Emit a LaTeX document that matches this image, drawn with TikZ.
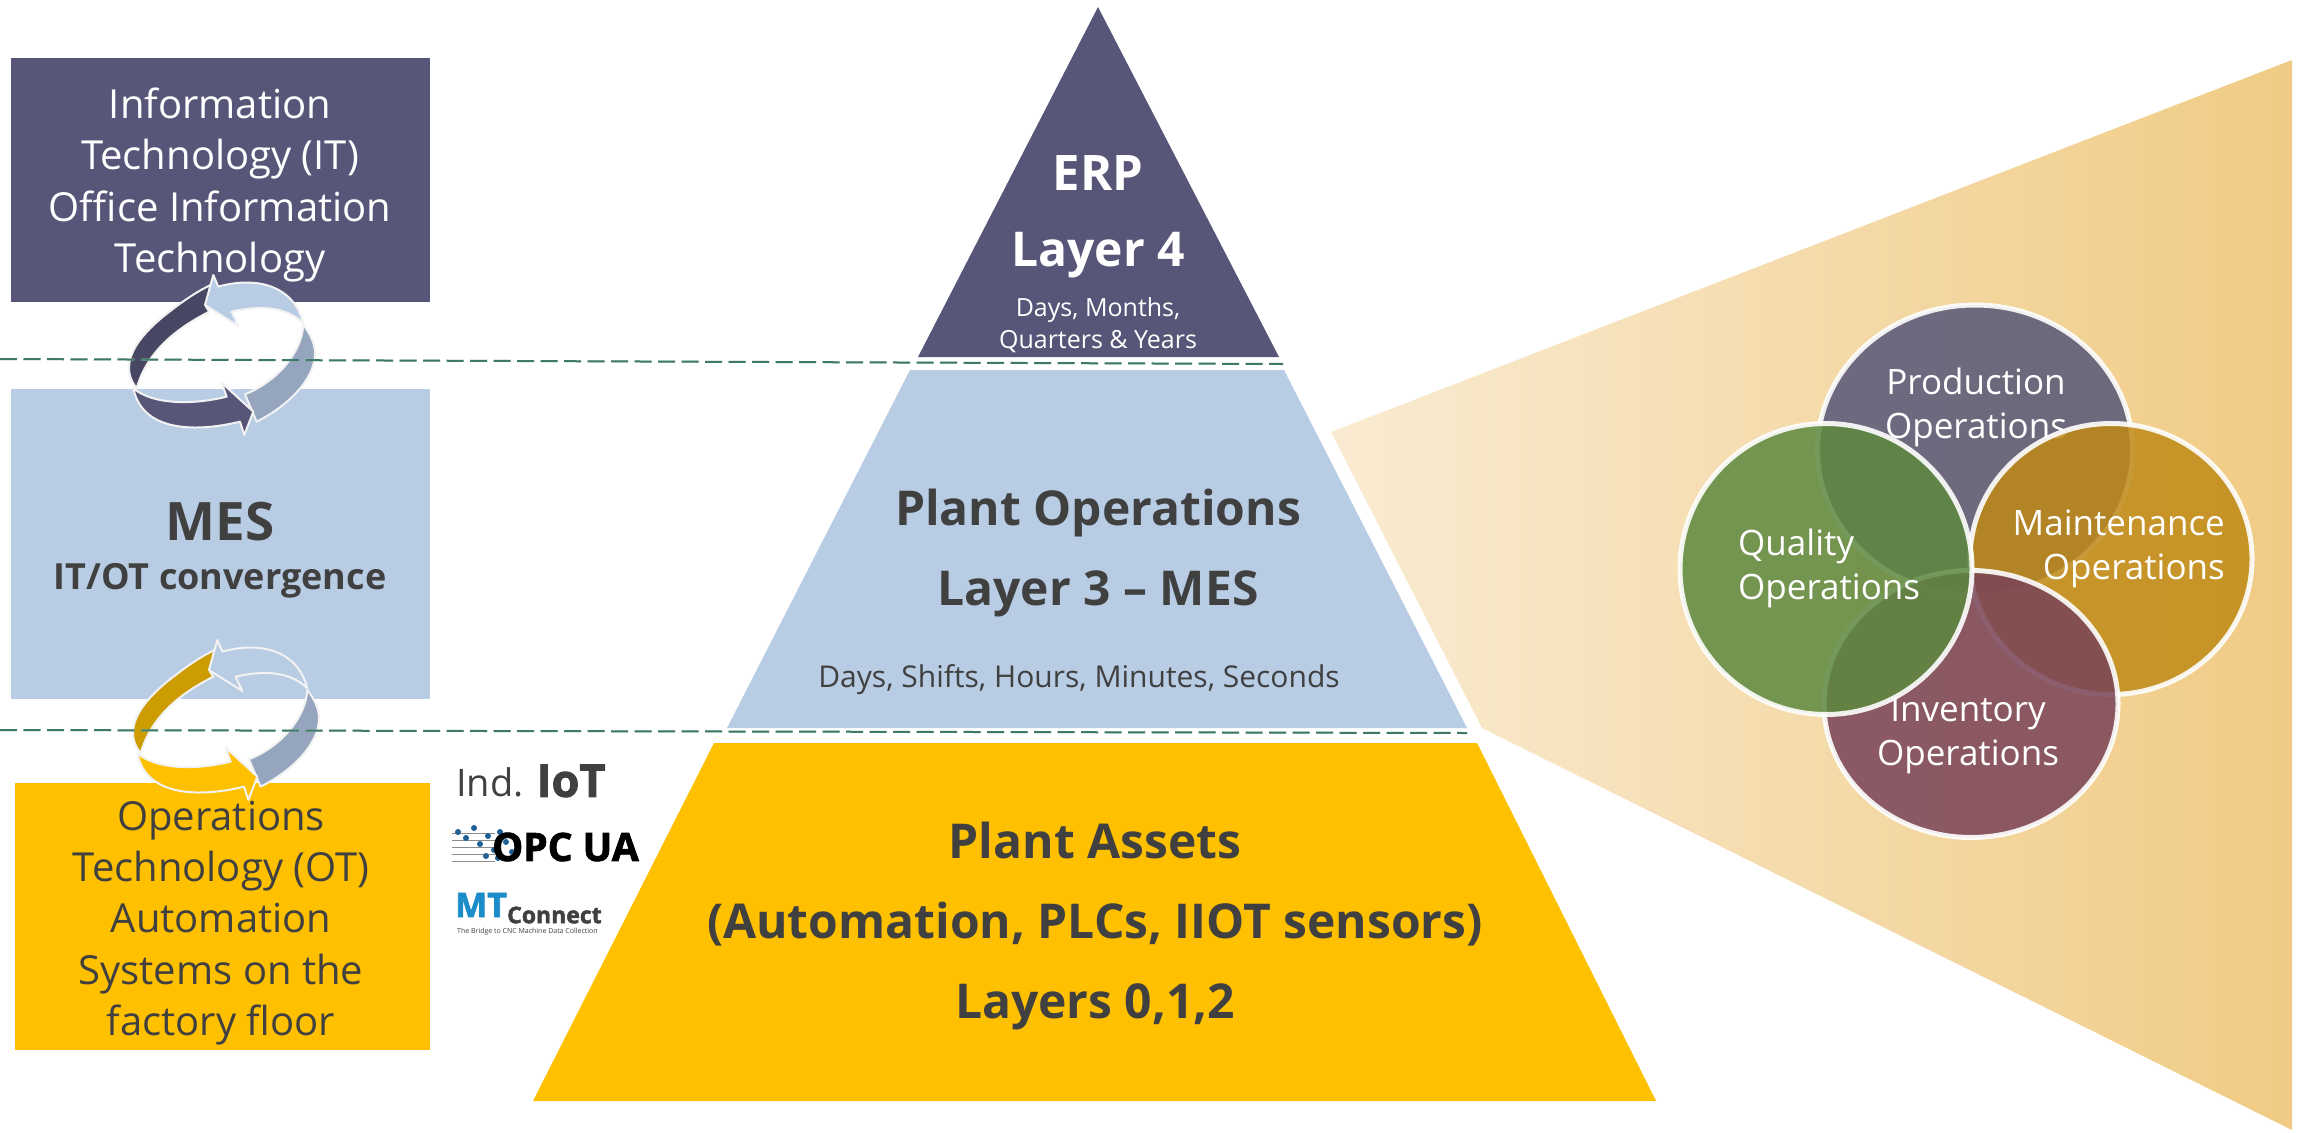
\documentclass[tikz,border=0pt]{standalone}
\usepackage{fontspec}
\setmainfont{Open Sans}
\usetikzlibrary{positioning,shapes.geometric}

\definecolor{itpurple}{HTML}{575678}
\definecolor{itdark}{HTML}{474663}
\definecolor{mesblue}{HTML}{B8CCE4}
\definecolor{greyblue}{HTML}{95A5BD}
\definecolor{otyellow}{HTML}{FFC000}
\definecolor{otdark}{HTML}{CC9C00}
\definecolor{txtdark}{HTML}{404040}
\definecolor{dashgreen}{HTML}{3E7A66}
\definecolor{fanleft}{HTML}{F9EBD2}
\definecolor{fanright}{HTML}{F0CB84}
\definecolor{prodcol}{HTML}{575678}
\definecolor{maintcol}{HTML}{BF8A16}
\definecolor{invcol}{HTML}{794358}
\definecolor{qualcol}{HTML}{5E893F}
\definecolor{opcblue}{HTML}{1F5F96}
\definecolor{mtblue}{HTML}{1C8CC8}

\newcommand{\fsz}[2]{\fontsize{#1}{#2}\selectfont}
\newcommand{\heavy}{\bfseries\addfontfeature{FakeBold=2}}

% one ring of four arrows, reads its corners in 3x pixels
\newcommand{\arrowring}[6]{
	\begin{scope}[shift={(#1,#2)},x=0.3333pt,y=-0.3333pt]
		\draw[ringline,fill=#5] (735,463) -- (770,545) .. controls (860,500) and (945,420) .. (945,340) .. controls (945,310) and (930,280) .. (910,255) .. controls (905,340) and (830,425) .. (735,463) -- cycle;
		\draw[ringline,fill=#3] (410,445) .. controls (358,380) and (395,300) .. (515,210) .. controls (560,175) and (600,150) .. (632,135) -- (618,200) -- (628,215) .. controls (520,270) and (440,340) .. (410,445) -- cycle;
		\draw[ringline,fill=#4] (615,195) -- (640,105) -- (655,140) .. controls (760,110) and (880,130) .. (910,250) .. controls (860,200) and (780,195) .. (695,215) -- (715,258) -- cycle;
		\draw[ringline,fill=#6] (400,445) .. controls (460,495) and (580,495) .. (680,470) -- (665,428) -- (760,515) -- (733,585) -- (720,545) .. controls (620,570) and (430,590) .. (400,445) -- cycle;
	\end{scope}
}

\tikzset{
	ringline/.style={draw=white!95!black,line width=2pt,line join=round},
	layerline/.style={dashgreen,line width=2pt,dash pattern=on 17pt off 6.5pt},
	layershade/.style={layerline,dashgreen!35,yshift=-1.5pt},
	sidetxt/.style={align=center,inner sep=0pt,font=\fsz{40}{51.3}},
	pyrtxt/.style={align=center,inner sep=0pt,text=txtdark,font=\bfseries\fsz{48}{80}},
	smalltxt/.style={align=center,inner sep=0pt,font=\fsz{25}{32}},
	venn/.style={ellipse,inner sep=0pt,draw=white,line width=5pt,fill opacity=0.85,draw opacity=0.9},
	venntxt/.style={inner sep=0pt,text=white,font=\fsz{35}{44}},
}

\begin{document}
\begin{tikzpicture}[x=1pt,y=-1pt]
	\useasboundingbox (0,0) rectangle (2298,1132);

	% fan behind the circles
	\shade[left color=fanleft,right color=fanright] (1331,432) -- (2292,60) -- (2292,1130) -- (1482,728) -- cycle;

	% left boxes
	\fill[itpurple] (11,58) rectangle (430,302);
	\fill[mesblue] (11,389) rectangle (430,699);
	\fill[otyellow] (15,783) rectangle (430,1050);

	\node[sidetxt,text=white] (ittxt) at (220,185) {Information\\Technology (IT)\\Office Information\\Technology};
	\node[inner sep=0pt,text=txtdark,font=\bfseries\fsz{53}{56}] (mestxt) at (220,522) {MES};
	\node[inner sep=0pt,text=txtdark,font=\bfseries\fsz{36}{40},below=22pt of mestxt] (convtxt) {IT/OT convergence};
	\node[sidetxt,text=txtdark] (ottxt) at (221,923) {Operations\\Technology (OT)\\Automation\\Systems on the\\factory floor};

	% pyramid
	\fill[itpurple] (1098,7) -- (1279,357) -- (918,357) -- cycle;
	\fill[mesblue] (910,370) -- (1284,370) -- (1467,728) -- (727,728) -- cycle;
	\fill[otyellow] (714,743) -- (1477,743) -- (1656,1101) -- (533,1101) -- cycle;

	\node[inner sep=0pt,text=white,font=\bfseries\fsz{49}{80}] (erptxt) at (1098,173) {ERP};
	\node[inner sep=0pt,text=white,font=\bfseries\fsz{48}{80}] (layerfour) at (1098,255) {Layer 4};
	\node[smalltxt,text=white] (erptime) at (1098,325) {Days, Months,\\Quarters \& Years};
	\node[pyrtxt] (planttxt) at (1098,553) {Plant Operations\\Layer 3 – MES};
	\node[smalltxt,text=txtdark,font=\fsz{30}{32}] (planttime) at (1079,680) {Days, Shifts, Hours, Minutes, Seconds};
	\node[pyrtxt] (assettxt) at (1095,926) {Plant Assets\\(Automation, PLCs, IIOT sensors)\\Layers 0,1,2};

	% arrow rings and layer lines
	\arrowring{0}{240}{itdark}{mesblue}{greyblue}{itpurple}
	\arrowring{4}{605}{otdark}{mesblue}{greyblue}{otyellow}

	\coordinate (lineoneL) at (0,359);
	\coordinate (lineoneR) at (1283,364);
	\coordinate (linetwoL) at (0,730);
	\coordinate (linetwoR) at (1467,733);
	\draw[layershade] (lineoneL) -- (lineoneR);
	\draw[layershade] (linetwoL) -- (linetwoR);
	\draw[layerline] (lineoneL) -- (lineoneR);
	\draw[layerline] (linetwoL) -- (linetwoR);

	% protocols
	\node[inner sep=0pt,anchor=west,text=txtdark,font=\fsz{38}{40}] (iottxt) at (456,781) {Ind. {\heavy\fontsize{45}{40}\selectfont IoT}};
	\foreach \y in {833,840,847,854,861} {
		\draw[black!45,line width=1pt] (452,\y) -- (495,\y);
	}
	\foreach \x/\y in {458/832,466/838,474/828,480/844,488/836,494/850,500/832,506/842,486/856,498/858,512/852} {
		\fill[opcblue] (\x,\y) circle (3pt);
	}
	\node[inner sep=0pt,anchor=west,font=\heavy\fsz{39}{44}] (opctxt) at (492,847) {OPC UA};
	\node[inner sep=0pt,anchor=west,text=mtblue,font=\heavy\fsz{34}{36}] (mttxt) at (455,905) {MT};
	\node[inner sep=0pt,anchor=west,text=txtdark,font=\heavy\fsz{23}{30}] (conntxt) at (507,915) {Connect};
	\node[inner sep=0pt,anchor=west,text=txtdark,font=\fsz{7}{9}] (mtsub) at (457,932) {The Bridge to CNC Machine Data Collection};

	% operations circles
	\node[venn,minimum width=315pt,minimum height=290pt,fill=prodcol] (prodcirc) at (1975,450) {};
	\node[venntxt,align=center] (prodtxt) at (1976,407) {Production\\Operations};
	\node[venn,minimum width=282pt,minimum height=271pt,fill=maintcol] (maintcirc) at (2111,559) {};
	\node[venntxt,align=right,anchor=east] (mainttxt) at (2225,549) {Maintenance\\Operations};
	\node[venn,minimum width=294pt,minimum height=267pt,fill=invcol] (invcirc) at (1971,704) {};
	\node[venntxt,align=center] (invtxt) at (1968,735) {Inventory\\Operations};
	\node[venn,minimum width=292pt,minimum height=291pt,fill=qualcol] (qualcirc) at (1826,569) {};
	\node[venntxt,align=left,anchor=west] (qualtxt) at (1738,568) {Quality\\Operations};
\end{tikzpicture}
\end{document}
